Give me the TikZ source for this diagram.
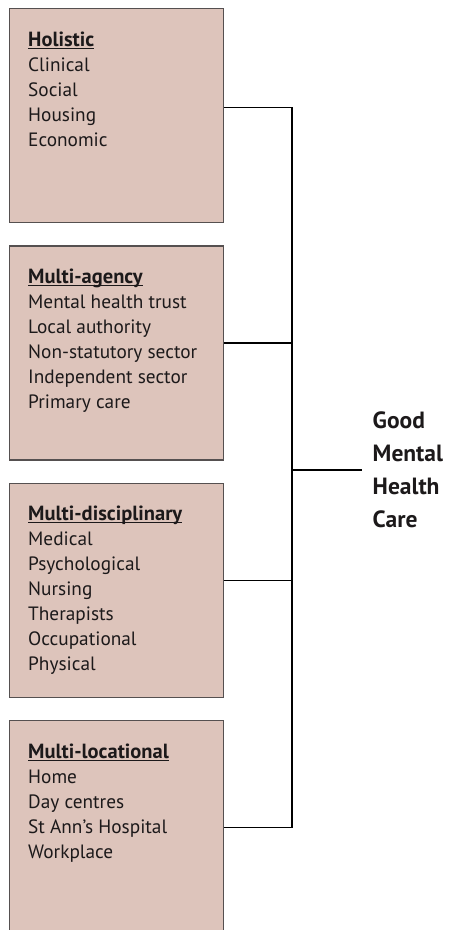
\documentclass[tikz,border=0pt]{standalone}
\usepackage{fontspec}
\setmainfont{PT Sans}
\usepackage{tikz}
\usetikzlibrary{positioning}
\usepackage{xcolor}
\definecolor{mhpink}{RGB}{221,196,187}
\definecolor{mhedge}{RGB}{85,80,80}
\definecolor{mhtext}{RGB}{28,25,26}
\newcommand{\boxhead}[1]{\textbf{\fontsize{20.5}{25}\selectfont\setbox0=\hbox{#1}\rlap{\rule[-2.5pt]{\wd0}{1pt}}\box0}}
\tikzstyle{link} = [line width=1.2pt, color=black]
\tikzstyle{careblock} = [rectangle, draw=mhedge, fill=mhpink, line width=1.3pt, minimum width=214pt, minimum height=214pt, inner sep=0pt]
\tikzstyle{carelist} = [align=left, inner sep=0pt, text=mhtext, font=\fontsize{19.3}{25}\selectfont]
\tikzstyle{goal} = [align=left, inner xsep=10.5pt, inner ysep=0pt, text=mhtext, font=\bfseries\fontsize{23.5}{33}\selectfont]

\begin{document}
\begin{tikzpicture}[x=1pt, y=-1pt]
\useasboundingbox (0,0) rectangle (449,930);
\clip (0,0) rectangle (449,930);
% Blocks
\node (hol) [careblock, anchor=north west] at (9,8) {};
\node (agen) [careblock, below=22pt of hol] {};
\node (disc) [careblock, below=22pt of agen] {};
\node (loc) [careblock, below=22pt of disc] {};

% Block contents
\node (holtxt) [carelist, below right=23.5pt and 19pt of hol.north west] {\boxhead{Holistic}\\Clinical\\Social\\Housing\\Economic};
\node (agentxt) [carelist, below right=23.5pt and 19pt of agen.north west] {\boxhead{Multi-agency}\\Mental health trust\\Local authority\\Non-statutory sector\\Independent sector\\Primary care};
\node (disctxt) [carelist, below right=23.5pt and 19pt of disc.north west] {\boxhead{Multi-disciplinary}\\Medical\\Psychological\\Nursing\\Therapists\\Occupational\\Physical};
\node (loctxt) [carelist, below right=23.5pt and 19pt of loc.north west] {\boxhead{Multi-locational}\\Home\\Day centres\\St Ann’s Hospital\\Workplace};

% Joins
\coordinate [above=8.5pt of hol.east] (holjoin);
\coordinate [above=10pt of agen.east] (agenjoin);
\coordinate [above=10pt of disc.east] (discjoin);
\coordinate (locjoin) at (loc.east);
\coordinate (spine) at (292,470);
\node (care) [goal, right=0pt of spine, anchor=west, xshift=70pt] {Good\\Mental\\Health\\Care};

% Connections
\draw[link] (holjoin) -| (spine |- locjoin) -- (locjoin);
\draw[link] (agenjoin) -- (agenjoin -| spine);
\draw[link] (discjoin) -- (discjoin -| spine);
\draw[link] (spine) -- (care.west);
\end{tikzpicture}
\end{document}
